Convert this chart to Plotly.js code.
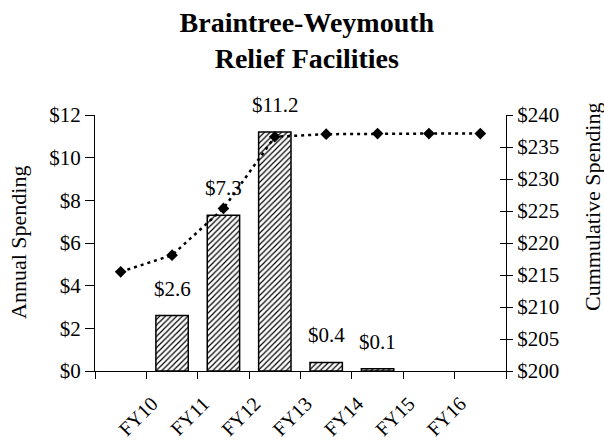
<!DOCTYPE html>
<html>
<head>
<meta charset="utf-8">
<script src="https://cdn.plot.ly/plotly-3.0.1.min.js"></script>
<style>html,body{margin:0;padding:0;background:#fff;}#chart{width:604px;height:444px;}</style>
</head>
<body>
<div id="chart"></div>
<script>
const categories = [" ", "FY10", "FY11", "FY12", "FY13", "FY14", "FY15", "FY16"];
const annualSpending = [null, 2.6, 7.3, 11.2, 0.4, 0.1, null, null];
const cumulativeSpending = [215.5, 218.1, 225.4, 236.6, 237.0, 237.1, 237.1, 237.1];
const leftTicks = [0, 2, 4, 6, 8, 10, 12];
const rightTicks = [200, 205, 210, 215, 220, 225, 230, 235, 240];

const FONT = "Liberation Serif, Times New Roman, serif";

const barText = annualSpending.map(v => (v && v > 0) ? "$" + v.toFixed(1) : "");

const bars = {
  type: "bar",
  x: categories,
  y: annualSpending,
  width: 0.63,
  marker: {
    color: "#ffffff",
    line: {color: "#000000", width: 1.5},
    pattern: {shape: "/", fgcolor: "#000000", bgcolor: "#ffffff", size: 4, solidity: 0.3}
  },
  hoverinfo: "skip",
  yaxis: "y"
};

const line = {
  type: "scatter",
  mode: "lines+markers",
  x: categories,
  y: cumulativeSpending,
  yaxis: "y2",
  line: {color: "#000000", width: 2.5, dash: "3px,4px"},
  marker: {symbol: "diamond", size: 9, color: "#000000"},
  hoverinfo: "skip"
};

const annotations = [];
categories.forEach((c, i) => {
  if (barText[i]) {
    annotations.push({
      x: c, y: annualSpending[i], xref: "x", yref: "y",
      text: barText[i], showarrow: false, yanchor: "bottom", yshift: 13,
      font: {family: FONT, size: 21, color: "#000"}
    });
  }
});
annotations.push({
  xref: "paper", yref: "paper", x: 0, y: 0.5, xanchor: "center", yanchor: "middle",
  xshift: -77, textangle: -90,
  text: "Annual Spending", showarrow: false,
  font: {family: FONT, size: 22, color: "#000"}
});
annotations.push({
  xref: "paper", yref: "paper", x: 1, y: 0.5, xanchor: "center", yanchor: "middle",
  xshift: 86, yshift: 36, textangle: -90,
  text: "Cummulative Spending", showarrow: false,
  font: {family: FONT, size: 22, color: "#000"}
});

const layout = {
  width: 604, height: 444,
  margin: {l: 95, r: 98, t: 115, b: 73},
  paper_bgcolor: "#fff", plot_bgcolor: "#fff",
  showlegend: false,
  font: {family: FONT, size: 21, color: "#000"},
  title: {
    text: "<b>Braintree-Weymouth<br>Relief Facilities</b>",
    font: {family: FONT, size: 28, color: "#000"},
    x: 0.508, xanchor: "center", y: 0.928, yanchor: "top"
  },
  xaxis: {
    type: "category", range: [-0.5, 7.5],
    tickson: "boundaries", ticks: "outside", ticklen: 7, tickcolor: "#000", tickwidth: 1,
    showline: true, linecolor: "#000", linewidth: 1,
    tickangle: -45, showgrid: false, zeroline: false,
    ticklabelstandoff: 12, ticklabelshift: -20,
    tickfont: {family: FONT, size: 20, color: "#000"}
  },
  yaxis: {
    range: [0, 12], tickvals: leftTicks, ticktext: leftTicks.map(v => "$" + v),
    ticks: "outside", ticklen: 9, tickcolor: "#000", showline: true, linecolor: "#000",
    showgrid: false, zeroline: false,
    tickfont: {family: FONT, size: 21, color: "#000"}
  },
  yaxis2: {
    overlaying: "y", side: "right", range: [200, 240],
    tickvals: rightTicks, ticktext: rightTicks.map(v => "$" + v),
    ticks: "outside", ticklen: 6, tickcolor: "#000", showline: true, linecolor: "#000",
    showgrid: false, zeroline: false,
    tickfont: {family: FONT, size: 21, color: "#000"}
  },
  yaxis3: {
    overlaying: "y", side: "right", range: [200, 240],
    tickvals: rightTicks, showticklabels: false,
    ticks: "inside", ticklen: 6, tickcolor: "#000", showline: false,
    showgrid: false, zeroline: false
  },
  annotations: annotations
};

const dummy = {type: "scatter", x: [categories[0]], y: [null], yaxis: "y3", hoverinfo: "skip", showlegend: false};

Plotly.newPlot("chart", [bars, line, dummy], layout, {staticPlot: true});
</script>
</body>
</html>
